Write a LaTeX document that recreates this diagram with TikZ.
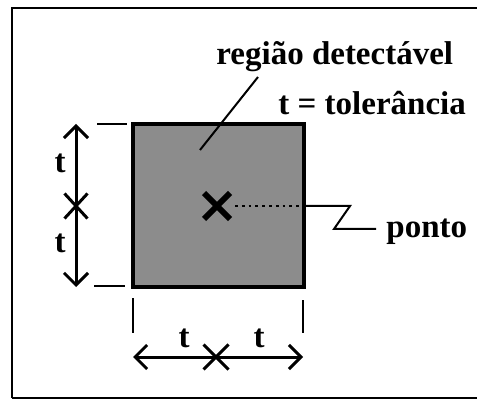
\documentclass[tikz,border=0pt]{standalone}
\usepackage{fontspec}
\setmainfont{Liberation Serif}
\usetikzlibrary{arrows.meta,shapes.misc}
\begin{document}
\begin{tikzpicture}[x=0.5pt,y=-0.5pt,
    regiao/.style={draw,line width=1.8pt,fill=black!45,minimum width=85.5pt,minimum height=81.5pt,inner sep=0pt},
    cota/.style={line width=1.5pt,{Straight Barb[length=6pt,width=12pt]}-{Straight Barb[length=6pt,width=12pt]}},
    marca/.style={cross out,draw,line width=1.5pt,minimum width=10pt,minimum height=11pt,inner sep=0pt},
    ponto node/.style={cross out,draw,line width=3pt,minimum size=10pt,inner sep=0pt},
    rotulo/.style={font=\fontsize{16.5}{20}\selectfont\bfseries,inner sep=0pt},
    fino/.style={line width=1pt} ]
    \useasboundingbox (0,0) rectangle (477,401);
    % moldura
    \draw [fino] (12,398) -- (12,8) -- (477,8);
    \draw [line width=0.6pt] (12,398) -- (477,398);
    % regiao e ponto
    \node at (218.5,205.5) [regiao] (Q) {};
    \node at (217,206) [ponto node] (P) {};
    \coordinate (P1) at (235,206);
    \draw [line width=1.4pt, dotted] (P1) to (Q.east |- P1);
    \coordinate (Z1) at (350,206);
    \coordinate (Z2) at (334,229);
    \coordinate (Z3) at (376,229);
    \draw [fino] (Q.east |- P1) -- (Z1) -- (Z2) -- (Z3);
    \node at (386,237) [rotulo,anchor=base west] (ponto) {ponto};
    % textos
    \node at (216,65) [rotulo,anchor=base west] (reg) {região detectável};
    \node at (278,115) [rotulo,anchor=base west] (tol) {t = tolerância};
    \coordinate (L1) at (258,77);
    \coordinate (L2) at (200,150);
    \draw [fino] (L1) to (L2);
    % cota vertical
    \coordinate (V1) at (76,124);
    \coordinate (V2) at (76,287);
    \draw [cota] (V1) to (V2);
    \node at (76,206) [marca] (VX) {};
    \node at (60,163) [rotulo] (tv1) {t};
    \node at (60,243) [rotulo] (tv2) {t};
    \coordinate (E1) at (97,124);
    \coordinate (E2) at (127,124);
    \coordinate (E3) at (94,286);
    \coordinate (E4) at (125,286);
    \draw [fino] (E1) to (E2);
    \draw [fino] (E3) to (E4);
    % cota horizontal
    \coordinate (H1) at (133,357);
    \coordinate (H2) at (303,357);
    \draw [cota] (H1) to (H2);
    \node at (216,357) [marca,minimum width=11pt,minimum height=11pt] (HX) {};
    \node at (184,338) [rotulo] (th1) {t};
    \node at (259,338) [rotulo] (th2) {t};
    \coordinate (F1) at (133,298);
    \coordinate (F2) at (133,333);
    \coordinate (F3) at (303,300);
    \coordinate (F4) at (303,333);
    \draw [fino] (F1) to (F2);
    \draw [fino] (F3) to (F4);
\end{tikzpicture}
\end{document}
